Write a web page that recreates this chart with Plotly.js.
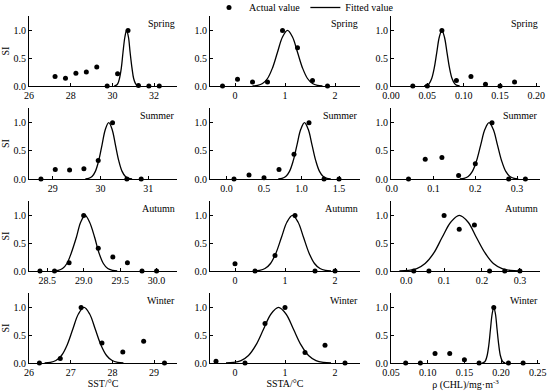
<!DOCTYPE html>
<html>
<head>
<meta charset="utf-8">
<script src="https://cdn.plot.ly/plotly-3.0.1.min.js"></script>
<style>html,body{margin:0;padding:0;background:#fff;}#chart{width:550px;height:391px;}</style>
</head>
<body>
<div id="chart"></div>
<script>
// ---- Data ----
var seasons = ["Spring", "Summer", "Autumn", "Winter"];
var xTitles = ["SST/°C", "SSTA/°C", "ρ (CHL)/mg·m<sup>-3</sup>"];

// Actual values (SI)
var sstSpringX = [27.25, 27.75, 28.25, 28.75, 29.25, 29.75, 30.25, 30.75, 31.25, 31.75, 32.25];
var sstSpringY = [0.17, 0.14, 0.23, 0.25, 0.34, 0, 0.22, 1.0, 0.01, 0, 0];
var sstaSpringX = [-0.25, 0.05, 0.35, 0.65, 0.95, 1.25, 1.55, 1.85];
var sstaSpringY = [0, 0.12, 0.07, 0.07, 1.0, 0.69, 0.1, 0];
var chlSpringX = [0.03, 0.05, 0.07, 0.09, 0.11, 0.13, 0.15, 0.17];
var chlSpringY = [0, 0, 1.0, 0.1, 0.17, 0.03, 0, 0.07];

var sstSummerX = [28.75, 29.05, 29.35, 29.65, 29.95, 30.25, 30.55, 30.85];
var sstSummerY = [0, 0.17, 0.16, 0.18, 0.33, 1.0, 0, 0];
var sstaSummerX = [0.1, 0.3, 0.5, 0.7, 0.9, 1.1, 1.3, 1.5];
var sstaSummerY = [0, 0.07, 0.02, 0.17, 0.44, 1.0, 0, 0];
var chlSummerX = [0.04, 0.08, 0.12, 0.16, 0.2, 0.24, 0.28, 0.32];
var chlSummerY = [0, 0.35, 0.38, 0.06, 0.27, 1.0, 0, 0];

var sstAutumnX = [28.4, 28.6, 28.8, 29.0, 29.2, 29.4, 29.6, 29.8, 30.0];
var sstAutumnY = [0, 0, 0.15, 1.0, 0.41, 0.25, 0.15, 0, 0];
var sstaAutumnX = [0, 0.4, 0.8, 1.2, 1.6, 2.0];
var sstaAutumnY = [0.13, 0, 0.28, 1.0, 0, 0];
var chlAutumnX = [0.02, 0.06, 0.1, 0.14, 0.18, 0.22, 0.26, 0.3];
var chlAutumnY = [0, 0, 1.0, 0.75, 0.83, 0, 0, 0];

var sstWinterX = [26.25, 26.75, 27.25, 27.75, 28.25, 28.75, 29.25];
var sstWinterY = [0, 0.08, 1.0, 0.36, 0.2, 0.39, 0];
var sstaWinterX = [-0.38, 0.2, 0.6, 1.0, 1.4, 1.8, 2.2];
var sstaWinterY = [0.03, 0, 0.71, 1.0, 0.19, 0.32, 0];
var chlWinterX = [0.07, 0.09, 0.11, 0.13, 0.15, 0.17, 0.19, 0.21, 0.23];
var chlWinterY = [0, 0, 0.17, 0.17, 0.06, 0, 1.0, 0, 0];

// Fitted curves
var fitY = [0.002, 0.011, 0.044, 0.135, 0.325, 0.607, 0.882, 1.0, 0.882, 0.607, 0.325, 0.135, 0.044, 0.011, 0.002];
var sstSpringFitX = [30.09, 30.17, 30.26, 30.34, 30.43, 30.51, 30.60, 30.68, 30.77, 30.85, 30.94, 31.02, 31.11, 31.19, 31.28];
var sstaSpringFitX = [0.35, 0.45, 0.55, 0.65, 0.75, 0.85, 0.95, 1.05, 1.15, 1.25, 1.35, 1.45, 1.55, 1.65, 1.75];
var chlSpringFitX = [0.0455, 0.049, 0.0525, 0.056, 0.0595, 0.063, 0.0665, 0.07, 0.0735, 0.077, 0.0805, 0.084, 0.0875, 0.091, 0.0945];
var sstSummerFitX = [29.68, 29.75, 29.82, 29.89, 29.96, 30.03, 30.10, 30.17, 30.24, 30.31, 30.38, 30.45, 30.52, 30.59, 30.66];
var sstaSummerFitX = [0.69, 0.74, 0.79, 0.84, 0.89, 0.94, 0.99, 1.04, 1.09, 1.14, 1.19, 1.24, 1.29, 1.34, 1.39];
var chlSummerFitX = [0.163, 0.173, 0.183, 0.193, 0.203, 0.213, 0.223, 0.233, 0.243, 0.253, 0.263, 0.273, 0.283, 0.293, 0.303];
var sstAutumnFitX = [28.58, 28.65, 28.71, 28.77, 28.83, 28.90, 28.96, 29.02, 29.08, 29.15, 29.21, 29.27, 29.33, 29.40, 29.46];
var sstaAutumnFitX = [0.38, 0.49, 0.60, 0.71, 0.82, 0.93, 1.04, 1.15, 1.26, 1.37, 1.48, 1.59, 1.70, 1.81, 1.92];
var chlAutumnFitX = [-0.018, 0.005, 0.028, 0.05, 0.073, 0.095, 0.118, 0.14, 0.163, 0.185, 0.208, 0.23, 0.253, 0.275, 0.298];
var sstWinterFitX = [26.375, 26.51, 26.645, 26.78, 26.915, 27.05, 27.185, 27.32, 27.455, 27.59, 27.725, 27.86, 27.995, 28.13, 28.265];
var sstaWinterFitX = [-0.18, -0.03, 0.12, 0.27, 0.42, 0.57, 0.72, 0.87, 1.02, 1.17, 1.32, 1.47, 1.62, 1.77, 1.92];
var chlWinterFitX = [0.1743, 0.1765, 0.1788, 0.181, 0.1833, 0.1855, 0.1878, 0.19, 0.1923, 0.1945, 0.1968, 0.199, 0.2013, 0.2035, 0.2058];

// Axis settings per panel
var xRanges = [
  [26, 33.1], [-0.5, 2.5], [0, 0.205],
  [28.5, 31.6], [-0.22, 1.78], [-0.002, 0.355],
  [28.25, 30.28], [-0.5, 2.5], [-0.04, 0.353],
  [26, 29.55], [-0.5, 2.5], [0.05, 0.253]
];
var xDticks = [2, 1, 0.05, 1, 0.5, 0.1, 0.5, 1, 0.1, 1, 1, 0.05];
var xTick0 = [26, 0, 0, 29, 0, 0, 28.5, 0, 0, 26, 0, 0.05];
var xFormats = ["", "", ".2f", "", ".1f", ".1f", ".1f", "", ".1f", "", "", ".2f"];

var panels = [
  [sstSpringX, sstSpringY, sstSpringFitX], [sstaSpringX, sstaSpringY, sstaSpringFitX], [chlSpringX, chlSpringY, chlSpringFitX],
  [sstSummerX, sstSummerY, sstSummerFitX], [sstaSummerX, sstaSummerY, sstaSummerFitX], [chlSummerX, chlSummerY, chlSummerFitX],
  [sstAutumnX, sstAutumnY, sstAutumnFitX], [sstaAutumnX, sstaAutumnY, sstaAutumnFitX], [chlAutumnX, chlAutumnY, chlAutumnFitX],
  [sstWinterX, sstWinterY, sstWinterFitX], [sstaWinterX, sstaWinterY, sstaWinterFitX], [chlWinterX, chlWinterY, chlWinterFitX]
];

// ---- Layout geometry ----
var W = 550, H = 391;
var colPx = [[29, 177], [210, 360], [391, 540]];
var rowPx = [[16, 86], [108, 179], [201, 271], [293, 363]];
var FONT = "'Liberation Serif', 'Times New Roman', serif";

var traces = [];
var layout = {
  width: W, height: H,
  margin: {l: 0, r: 0, t: 0, b: 0, autoexpand: false},
  paper_bgcolor: "#fff", plot_bgcolor: "#fff",
  font: {family: FONT, size: 10, color: "#000"},
  showlegend: true,
  legend: {orientation: "h", x: 0.38, xanchor: "left", y: 1 + 7 / 391, yanchor: "top",
           font: {family: FONT, size: 10, color: "#000"}, bgcolor: "rgba(0,0,0,0)",
           tracegroupgap: 0, itemwidth: 30},
  annotations: []
};

for (var i = 0; i < 12; i++) {
  var r = Math.floor(i / 3), c = i % 3;
  var n = i + 1;
  var xa = "x" + (n === 1 ? "" : n), ya = "y" + (n === 1 ? "" : n);
  var xKey = "xaxis" + (n === 1 ? "" : n), yKey = "yaxis" + (n === 1 ? "" : n);
  var p = panels[i];

  traces.push({
    x: p[2], y: fitY, xaxis: xa, yaxis: ya, type: "scatter", mode: "lines",
    line: {color: "#000", width: 1.3, shape: "spline", smoothing: 1},
    name: "Fitted value", showlegend: i === 0, legendrank: 2, hoverinfo: "skip"
  });
  traces.push({
    x: p[0], y: p[1], xaxis: xa, yaxis: ya, type: "scatter", mode: "markers",
    marker: {color: "#000", size: 5},
    name: "Actual value", showlegend: i === 0, legendrank: 1, cliponaxis: false
  });

  layout[xKey] = {
    domain: [colPx[c][0] / W, colPx[c][1] / W],
    anchor: ya, range: xRanges[i], autorange: false,
    tick0: xTick0[i], dtick: xDticks[i], tickformat: xFormats[i],
    showline: true, linecolor: "#000", linewidth: 1, mirror: false,
    ticks: "inside", ticklen: 3, tickcolor: "#000", showgrid: false, zeroline: false,
    tickfont: {family: FONT, size: 10, color: "#000"}, ticklabelstandoff: 0
  };
  if (r === 3) {
    layout[xKey].title = {text: xTitles[c], font: {family: FONT, size: 10, color: "#000"}, standoff: 2};
  }
  layout[yKey] = {
    domain: [1 - rowPx[r][1] / H, 1 - rowPx[r][0] / H],
    anchor: xa, range: [0, 1.26], autorange: false,
    tickvals: [0, 0.5, 1.0], tickformat: ".1f",
    showline: true, linecolor: "#000", linewidth: 1, mirror: false,
    ticks: "inside", ticklen: 3, tickcolor: "#000", showgrid: false, zeroline: false,
    tickfont: {family: FONT, size: 10, color: "#000"}
  };
  if (c === 0) {
    layout[yKey].title = {text: "SI", font: {family: FONT, size: 10, color: "#000"}, standoff: 4};
  }
  layout.annotations.push({
    text: seasons[r], xref: xa + " domain", yref: ya + " domain",
    x: 1, y: 0.9, xanchor: "right", yanchor: "middle", showarrow: false,
    font: {family: FONT, size: 10, color: "#000"}
  });
}

Plotly.newPlot("chart", traces, layout, {displayModeBar: false, staticPlot: true});
</script>
</body>
</html>
